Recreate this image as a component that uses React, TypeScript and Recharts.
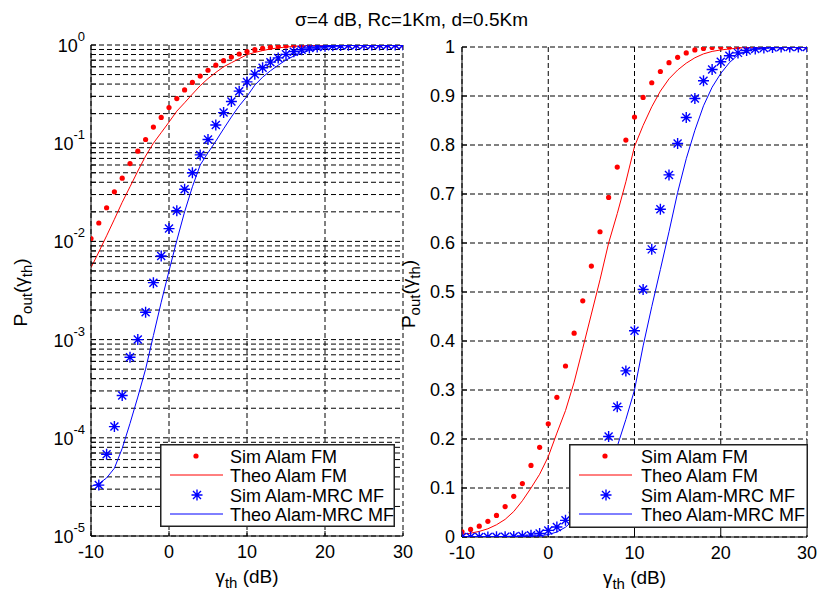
import React from "react";
import { ComposedChart, Line, XAxis, YAxis, CartesianGrid, Legend } from "recharts";

// gamma_th (dB)
const gammaTh = [
  -10, -9, -8, -7, -6, -5, -4, -3, -2, -1, 0, 1, 2, 3, 4, 5, 6, 7, 8, 9, 10,
  11, 12, 13, 14, 15, 16, 17, 18, 19, 20, 21, 22, 23, 24, 25, 26, 27, 28, 29, 30,
];

const simAlamFM = [
  0.0107, 0.0154, 0.022, 0.032, 0.044, 0.062, 0.083, 0.109, 0.146, 0.183, 0.231,
  0.285, 0.349, 0.416, 0.482, 0.553, 0.623, 0.693, 0.755, 0.81, 0.857,
  0.897, 0.927, 0.95, 0.968, 0.979, 0.988, 0.994, 0.997, 0.999, 1,
  1, 1, 1, 1, 1, 1, 1, 1, 1, 1,
];

const theoAlamFM = [
  0.0054, 0.0078, 0.0114, 0.0168, 0.025, 0.036, 0.052, 0.074, 0.1, 0.128, 0.164,
  0.212, 0.258, 0.316, 0.385, 0.455, 0.525, 0.6, 0.66, 0.725, 0.797,
  0.84, 0.878, 0.91, 0.935, 0.953, 0.967, 0.978, 0.986, 0.991, 0.994,
  0.996, 0.998, 0.999, 1, 1, 1, 1, 1, 1, 1,
];

const simMrcMF = [
  0, 3.3e-5, 6.8e-5, 1.3e-4, 2.7e-4, 6.6e-4, 1.0e-3, 1.9e-3, 3.8e-3, 7.1e-3, 0.0135,
  0.0205, 0.034, 0.05, 0.076, 0.109, 0.153, 0.205, 0.266, 0.339, 0.421,
  0.505, 0.587, 0.669, 0.739, 0.803, 0.856, 0.895, 0.931, 0.954, 0.97,
  0.982, 0.988, 0.993, 0.996, 0.998, 0.999, 1, 1, 1, 1,
];

const theoMrcMF = [
  3.2e-5, 3.4e-5, 3.9e-5, 4.9e-5, 7.8e-5, 1.4e-4, 2.6e-4, 5.0e-4, 1.1e-3, 2.4e-3, 5.0e-3,
  0.0102, 0.02, 0.036, 0.06, 0.08, 0.105, 0.14, 0.185, 0.24, 0.3,
  0.39, 0.47, 0.546, 0.623, 0.703, 0.772, 0.83, 0.88, 0.918, 0.946,
  0.968, 0.984, 0.992, 0.996, 0.998, 0.999, 1, 1, 1, 1,
];

const seriesNames = ["Sim Alam FM", "Theo Alam FM", "Sim Alam-MRC MF", "Theo Alam-MRC MF"];

const xTicks = [-10, 0, 10, 20, 30];
const decades = [1e-5, 1e-4, 1e-3, 1e-2, 1e-1];
const mantissas = [1, 2, 3, 4, 5, 6, 7, 8, 9];
const logTicks = [...decades.flatMap((d) => mantissas.map((m) => m * d)), 1];
const linTicks = [0, 0.1, 0.2, 0.3, 0.4, 0.5, 0.6, 0.7, 0.8, 0.9, 1];

const RED = "#ff0000";
const BLUE = "#0000ff";
const FONT = "Arial, 'Liberation Sans', Helvetica, sans-serif";
const TICK_FS = 18;
const TEXT_FS = 19;
const LEGEND_FS = 18;

const rows = gammaTh.map((x, i) => ({
  x,
  simFM: simAlamFM[i],
  theoFM: theoAlamFM[i],
  simMRC: simMrcMF[i],
  theoMRC: theoMrcMF[i],
}));

// log axis cannot show zeros
const pos = (v: number) => (v > 0 ? v : null);
const logRows = rows.map((r) => ({
  x: r.x,
  simFM: pos(r.simFM),
  theoFM: pos(r.theoFM),
  simMRC: pos(r.simMRC),
  theoMRC: pos(r.theoMRC),
}));

function RedDot(props: any) {
  const { cx, cy, index } = props;
  if (cx == null || cy == null) return <g key={`rd-${index}`} />;
  return <circle key={`rd-${index}`} cx={cx} cy={cy} r={2.6} fill={RED} />;
}

function starPath(cx: number, cy: number) {
  const s = 5.5;
  const d = 4;
  return `M${cx - s},${cy}H${cx + s}M${cx},${cy - s}V${cy + s}M${cx - d},${cy - d}L${cx + d},${cy + d}M${cx - d},${cy + d}L${cx + d},${cy - d}`;
}

function BlueStar(props: any) {
  const { cx, cy, index } = props;
  if (cx == null || cy == null) return <g key={`bs-${index}`} />;
  return <path key={`bs-${index}`} d={starPath(cx, cy)} stroke={BLUE} strokeWidth={1.4} fill="none" />;
}

function LogYTick({ x, y, payload }: any) {
  const p = Math.log10(payload.value);
  const e = Math.round(p);
  if (Math.abs(p - e) > 1e-6) return <g />;
  return (
    <text x={x - 6} y={y + 7} textAnchor="end" fontSize={TICK_FS} fill="#000" fontFamily={FONT}>
      10<tspan dy={-11} fontSize={13}>{String(e)}</tspan>
    </text>
  );
}

function LinYTick({ x, y, payload }: any) {
  return (
    <text x={x - 7} y={y + 6} textAnchor="end" fontSize={TICK_FS} fill="#000" fontFamily={FONT}>
      {String(payload.value)}
    </text>
  );
}

function XTick({ x, y, payload }: any) {
  return (
    <text x={x} y={y + 22} textAnchor="middle" fontSize={TICK_FS} fill="#000" fontFamily={FONT}>
      {String(payload.value)}
    </text>
  );
}

function XTitle({ viewBox }: any) {
  const vb = viewBox || { x: 0, y: 0, width: 0 };
  const x = vb.x + vb.width / 2;
  const y = vb.y + 47;
  return (
    <text x={x} y={y} textAnchor="middle" fontSize={TEXT_FS} fill="#000" fontFamily={FONT}>
      γ<tspan dy={5} fontSize={15}>th</tspan>
      <tspan dy={-5}>{" (dB)"}</tspan>
    </text>
  );
}

function YTitle({ viewBox, offsetX }: any) {
  const vb = viewBox || { x: 0, y: 0, height: 0 };
  const x = vb.x + offsetX;
  const y = vb.y + vb.height / 2 + 2;
  return (
    <text
      transform={`rotate(-90, ${x}, ${y})`}
      x={x}
      y={y}
      textAnchor="middle"
      fontSize={TEXT_FS}
      fill="#000"
      fontFamily={FONT}
    >
      P<tspan dy={5} fontSize={15}>out</tspan>
      <tspan dy={-5}>(γ</tspan>
      <tspan dy={5} fontSize={15}>th</tspan>
      <tspan dy={-5}>)</tspan>
    </text>
  );
}

function LegendBox({ w, h, textX }: { w: number; h: number; textX: number }) {
  const centers = [12, 31, 51, 70];
  return (
    <svg width={w} height={h} style={{ overflow: "visible", display: "block" }}>
      <rect x={0.75} y={0.75} width={w - 1.5} height={h - 1.5} fill="#fff" stroke="#222" strokeWidth={1.5} />
      <circle cx={36} cy={centers[0]} r={2.6} fill={RED} />
      <line x1={10} x2={63} y1={centers[1]} y2={centers[1]} stroke={RED} strokeWidth={1} />
      <path d={starPath(37, centers[2])} stroke={BLUE} strokeWidth={1.4} fill="none" />
      <line x1={10} x2={63} y1={centers[3]} y2={centers[3]} stroke={BLUE} strokeWidth={1} />
      {seriesNames.map((name, i) => (
        <text key={name} x={textX} y={centers[i] + 7} fontSize={LEGEND_FS} fill="#000" fontFamily={FONT}>
          {name}
        </text>
      ))}
    </svg>
  );
}

function Panel({
  log,
  width,
  height,
  margin,
  yWidth,
  xHeight,
  yTitleX,
  legendPos,
}: {
  log: boolean;
  width: number;
  height: number;
  margin: { top: number; right: number; bottom: number; left: number };
  yWidth: number;
  xHeight: number;
  yTitleX: number;
  legendPos: { left: number; top: number; width: number; height: number; textX: number };
}) {
  const data = log ? logRows : rows;
  const yProps = log
    ? { scale: "log" as const, domain: [1e-5, 1], ticks: logTicks }
    : { scale: "linear" as const, domain: [0, 1], ticks: linTicks };
  return (
    <ComposedChart width={width} height={height} data={data} margin={margin}>
      <CartesianGrid stroke="#000" strokeDasharray="5 3" strokeWidth={1} />
      <XAxis
        dataKey="x"
        type="number"
        domain={[-10, 30]}
        ticks={xTicks}
        interval={0}
        height={xHeight}
        tickSize={-5}
        tickMargin={5}
        tick={<XTick />}
        axisLine={{ stroke: "#000" }}
        tickLine={{ stroke: "#000" }}
        allowDataOverflow
        label={<XTitle />}
      />
      <XAxis
        xAxisId="top"
        orientation="top"
        dataKey="x"
        type="number"
        domain={[-10, 30]}
        ticks={xTicks}
        interval={0}
        height={0}
        tickSize={-5}
        tick={false}
        axisLine={{ stroke: "#000" }}
        tickLine={{ stroke: "#000" }}
      />
      <YAxis
        type="number"
        {...yProps}
        interval={0}
        width={yWidth}
        tickSize={-5}
        tickMargin={5}
        tick={log ? <LogYTick /> : <LinYTick />}
        axisLine={{ stroke: "#000" }}
        tickLine={{ stroke: "#000" }}
        allowDataOverflow
        label={<YTitle offsetX={yTitleX} />}
      />
      <YAxis
        yAxisId="right"
        orientation="right"
        type="number"
        {...yProps}
        interval={0}
        width={0}
        tickSize={-5}
        tick={false}
        axisLine={{ stroke: "#000" }}
        tickLine={{ stroke: "#000" }}
        allowDataOverflow
      />
      <Line
        dataKey="simFM"
        name={seriesNames[0]}
        stroke="none"
        dot={(p: any) => <RedDot {...p} />}
        activeDot={false}
        isAnimationActive={false}
      />
      <Line
        dataKey="theoFM"
        name={seriesNames[1]}
        type="linear"
        stroke={RED}
        strokeWidth={1}
        dot={false}
        activeDot={false}
        isAnimationActive={false}
      />
      <Line
        dataKey="simMRC"
        name={seriesNames[2]}
        stroke="none"
        dot={(p: any) => <BlueStar {...p} />}
        activeDot={false}
        isAnimationActive={false}
      />
      <Line
        dataKey="theoMRC"
        name={seriesNames[3]}
        type="linear"
        stroke={BLUE}
        strokeWidth={1}
        dot={false}
        activeDot={false}
        isAnimationActive={false}
      />
      <Legend
        layout="vertical"
        align="center"
        verticalAlign="middle"
        content={() => <LegendBox w={legendPos.width} h={legendPos.height} textX={legendPos.textX} />}
        wrapperStyle={{
          left: legendPos.left,
          top: legendPos.top,
          width: legendPos.width,
          height: legendPos.height,
        }}
      />
    </ComposedChart>
  );
}

export default function App() {
  return (
    <div
      style={{
        position: "absolute",
        left: 0,
        top: 0,
        width: 818,
        height: 596,
        background: "#fff",
        fontFamily: FONT,
        overflow: "hidden",
      }}
    >
      <svg width={818} height={40} style={{ position: "absolute", left: 0, top: 0 }}>
        <text x={411.5} y={26} textAnchor="middle" fontSize={19} fill="#000" fontFamily={FONT}>
          σ=4 dB, Rc=1Km, d=0.5Km
        </text>
      </svg>
      <div style={{ position: "absolute", left: 0, top: 0 }}>
        <Panel
          log
          width={420}
          height={596}
          margin={{ top: 45, right: 17, bottom: 0, left: 0 }}
          yWidth={91}
          xHeight={60}
          yTitleX={27}
          legendPos={{ left: 160, top: 444, width: 235, height: 83, textX: 70 }}
        />
      </div>
      <div style={{ position: "absolute", left: 395, top: 0 }}>
        <Panel
          log={false}
          width={423}
          height={596}
          margin={{ top: 47, right: 11, bottom: 0, left: 0 }}
          yWidth={67}
          xHeight={59}
          yTitleX={20}
          legendPos={{ left: 174, top: 444, width: 239, height: 84, textX: 72 }}
        />
      </div>
    </div>
  );
}
